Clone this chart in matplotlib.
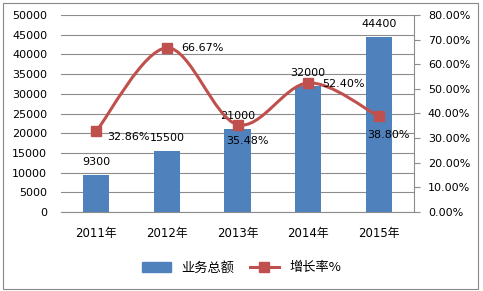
import matplotlib.pyplot as plt
from matplotlib.path import Path
from matplotlib.patches import PathPatch, Rectangle
from matplotlib.lines import Line2D

plt.rcParams['font.family'] = ['DejaVu Sans', 'Noto Sans CJK SC']

years = ["2011年", "2012年", "2013年", "2014年", "2015年"]
totals = [9300, 15500, 21000, 32000, 44400]
growth = [32.86, 66.67, 35.48, 52.40, 38.80]
growth_labels = ["32.86%", "66.67%", "35.48%", "52.40%", "38.80%"]

BAR = "#4F81BD"
LINE = "#C0504D"
GRID = "#8C8C8C"
TXT = "#000000"

fig = plt.figure(figsize=(4.83, 2.91), dpi=100)
fig.patch.set_facecolor("white")
# outer chart border
fig.add_artist(Rectangle((3 / 483, 2 / 291), 475 / 483, 286 / 291, transform=fig.transFigure,
                         facecolor="none", edgecolor="#888888", linewidth=0.8))

ax = fig.add_axes([61 / 483, 1 - 212 / 291, 353 / 483, 197 / 291])
x = list(range(len(years)))
ax.bar(x, totals, width=0.37, color=BAR, zorder=2)
ax.set_xlim(-0.5, len(years) - 0.5)
ax.set_ylim(0, 50000)
ax.set_yticks(range(0, 50001, 5000))
ax.yaxis.grid(True, color=GRID, linewidth=0.8, zorder=0)
ax.set_axisbelow(True)
for s in ["left", "top", "right"]:
    ax.spines[s].set_visible(False)
ax.spines["bottom"].set_color(GRID)
ax.tick_params(axis="y", length=0, labelsize=8, pad=10)
ax.tick_params(axis="x", length=0, labelsize=8.5, pad=11)
ax.set_xticks(x)
ax.set_xticklabels(years, family=['DejaVu Sans', 'Noto Sans CJK SC'])

for xi, v in zip(x, totals):
    ax.annotate(str(v), (xi, v), xytext=(0, 6), textcoords="offset points",
                ha="center", va="bottom", fontsize=8, color=TXT, zorder=5)

ax2 = ax.twinx()
ax2.set_ylim(0, 80)
ax2.set_yticks(range(0, 81, 10))
ax2.set_yticklabels([f"{t:.2f}%" for t in range(0, 81, 10)])
for s in ["left", "top", "bottom"]:
    ax2.spines[s].set_visible(False)
ax2.spines["right"].set_color(GRID)
ax2.tick_params(axis="y", length=4, color=GRID, labelsize=8, pad=6)

# smoothed line (Bezier through the points)
pts = list(zip(x, growth))
verts = [pts[0]]
codes = [Path.MOVETO]
for i in range(len(pts) - 1):
    p0 = pts[i - 1] if i > 0 else pts[i]
    p1 = pts[i]
    p2 = pts[i + 1]
    p3 = pts[i + 2] if i + 2 < len(pts) else pts[i + 1]
    c1 = (p1[0] + (p2[0] - p0[0]) / 6, p1[1] + (p2[1] - p0[1]) / 6)
    c2 = (p2[0] - (p3[0] - p1[0]) / 6, p2[1] - (p3[1] - p1[1]) / 6)
    verts += [c1, c2, p2]
    codes += [Path.CURVE4] * 3
ax2.add_patch(PathPatch(Path(verts, codes), facecolor="none", edgecolor=LINE,
                        linewidth=2.2, zorder=3))
ax2.plot(x, growth, linestyle="none", marker="s", markersize=7, color=LINE, zorder=4)

offsets = [(8, -4, "left", "center"), (10, 0, "left", "center"), (-8, -8, "left", "top"),
           (10, -1, "left", "center"), (-8, -10, "left", "top")]
for xi, v, lab, (dx, dy, ha, va) in zip(x, growth, growth_labels, offsets):
    ax2.annotate(lab, (xi, v), xytext=(dx, dy), textcoords="offset points",
                 ha=ha, va=va, fontsize=8, color=TXT, zorder=5)

handles = [Rectangle((0, 0), 1, 1, color=BAR),
           Line2D([], [], color=LINE, linewidth=2.2, marker="s", markersize=7)]
fig.legend(handles, ["业务总额", "增长率%"], loc="center", bbox_to_anchor=(0.5, 1 - 268 / 291),
           ncol=2, frameon=False, handlelength=2.2, columnspacing=1.2,
           prop={"family": ['Noto Sans CJK SC', 'DejaVu Sans'], "size": 9.5})

fig.savefig("out.png", dpi=100)
